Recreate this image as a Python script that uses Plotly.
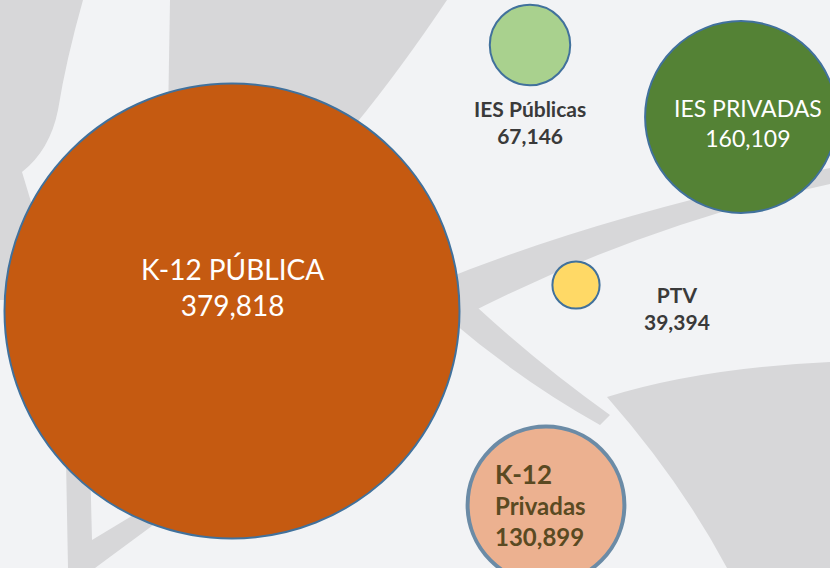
import plotly.graph_objects as go

# ---------------------------------------------------------------
# data

categories = ["K-12 PÚBLICA", "IES Públicas", "IES PRIVADAS", "PTV", "K-12 Privadas"]
values = [379818, 67146, 160109, 39394, 130899]

# bubble layout (chart units = pixels, y grows downward)
bubble_x = [232, 530, 741, 576, 546]
bubble_y = [311, 45, 117, 285, 505]

label_x = [232, 530, 748, 677, 493]
label_y = [287, 122, 123, 308, 504]

# ---------------------------------------------------------------
# styles

BG = "#F2F3F5"
LEAF = "#D7D7D9"
FONT = "Lato, 'Open Sans', sans-serif"

fill_colors = ["#C55A11", "#A9D18E", "#548235", "#FFD966", "#ECB190"]
line_colors = ["#41719C", "#41719C", "#41719C", "#41719C", "#6B8BA6"]
line_widths = [2, 2, 2, 2, 4]

# ---------------------------------------------------------------
# decorative background leaves

leaves = [
    # left leaf
    "M 0 0 L 83 0 Q 66 60 58 110 Q 50 150 22 172 L 35 215 L 45 300 L 0 300 Z",
    # big top leaf
    "M 170 0 L 447 0 Q 400 70 355 125 Q 300 190 250 200 L 168 120 Z",
    # stem going up right
    "M 430 285 Q 600 215 830 168 L 830 184 Q 640 225 460 318 Z",
    # branch going down right
    "M 455 308 L 478 308 Q 540 365 610 415 L 600 425 Q 520 380 450 320 Z",
    # bottom right leaf
    "M 607 397 Q 700 368 830 362 L 830 568 L 727 568 Q 680 480 607 397 Z",
    # bottom left v
    "M 66 460 L 90 460 L 92 540 L 150 505 L 160 520 L 95 568 L 68 568 Z",
]

fig = go.Figure()

fig.add_trace(go.Scatter(
    x=bubble_x,
    y=bubble_y,
    mode="markers",
    marker=dict(
        size=values,
        sizemode="diameter",
        sizeref=max(values) / 455,
        color=fill_colors,
        opacity=1,
        line=dict(color=line_colors, width=line_widths),
    ),
    hovertext=categories,
    hoverinfo="text",
    showlegend=False,
))

# labels
label_styles = [
    dict(color="white", size=28, bold=False),
    dict(color="#3A3A3A", size=21, bold=True),
    dict(color="white", size=23, bold=False),
    dict(color="#3A3A3A", size=21, bold=True),
    dict(color="#5A4A22", size=24, bold=True),
]

for i, (name, val) in enumerate(zip(categories, values)):
    st = label_styles[i]
    num = f"{val:,}"
    if name == "K-12 Privadas":
        first, rest = name.split(" ", 1)
        text = f"<b><span style='font-size:26px'>{first}</span><br>{rest}<br>{num}</b>"
        align, xanchor = "left", "left"
    else:
        text = f"{name}<br>{num}"
        if st["bold"]:
            text = f"<b>{text}</b>"
        align, xanchor = "center", "center"
    fig.add_annotation(
        x=label_x[i],
        y=label_y[i],
        text=text,
        showarrow=False,
        align=align,
        xanchor=xanchor,
        yanchor="middle",
        font=dict(family=FONT, size=st["size"], color=st["color"]),
    )

fig.update_layout(
    width=830,
    height=568,
    margin=dict(l=0, r=0, t=0, b=0),
    paper_bgcolor=BG,
    plot_bgcolor=BG,
    xaxis=dict(range=[0, 830], visible=False, fixedrange=True),
    yaxis=dict(range=[568, 0], visible=False, fixedrange=True),
    shapes=[
        dict(type="path", path=p, xref="x", yref="y",
             fillcolor=LEAF, line=dict(width=0), layer="below")
        for p in leaves
    ],
)

fig.write_html(
    "out.html",
    config={"displayModeBar": False},
    post_script="document.body.style.margin='0px';",
)
